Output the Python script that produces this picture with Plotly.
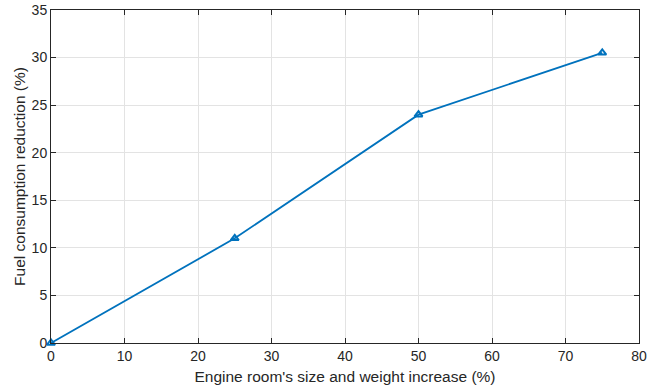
import plotly.graph_objects as go

# Engine-room growth vs. fuel saving
size_weight_increase = [0, 25, 50, 75]
fuel_reduction = [0, 11, 24, 30.5]

x_ticks = [0, 10, 20, 30, 40, 50, 60, 70, 80]
y_ticks = [0, 5, 10, 15, 20, 25, 30, 35]

line_color = "#0072BD"
text_color = "#262626"
grid_color = "#e3e3e3"
font_family = "Liberation Sans, Arial, sans-serif"

fig = go.Figure()
fig.add_trace(go.Scatter(
    x=size_weight_increase,
    y=fuel_reduction,
    mode="lines+markers",
    line=dict(color=line_color, width=1.8),
    marker=dict(symbol="triangle-up-open", size=7, color=line_color,
                line=dict(width=2, color=line_color)),
    cliponaxis=False,
    showlegend=False,
))

axis_common = dict(
    showgrid=True,
    gridcolor=grid_color,
    gridwidth=1,
    showline=True,
    linecolor=text_color,
    linewidth=1,
    mirror="ticks",
    ticks="inside",
    ticklen=5,
    tickcolor=text_color,
    tickwidth=1,
    zeroline=False,
    automargin=False,
    tickfont=dict(family=font_family, size=14, color=text_color),
)

fig.update_xaxes(
    range=[0, 80],
    tickvals=x_ticks,
    title=dict(text="Engine room's size and weight increase (%)",
               font=dict(family=font_family, size=15.5, color=text_color),
               standoff=8),
    **axis_common,
)
fig.update_yaxes(
    range=[0, 35],
    tickvals=y_ticks,
    title=dict(text="Fuel consumption reduction (%)",
               font=dict(family=font_family, size=15.5, color=text_color),
               standoff=2),
    **axis_common,
)

fig.update_layout(
    width=660,
    height=390,
    margin=dict(l=51, r=21, t=10, b=47),
    paper_bgcolor="white",
    plot_bgcolor="white",
)

fig.write_html("out.html")
